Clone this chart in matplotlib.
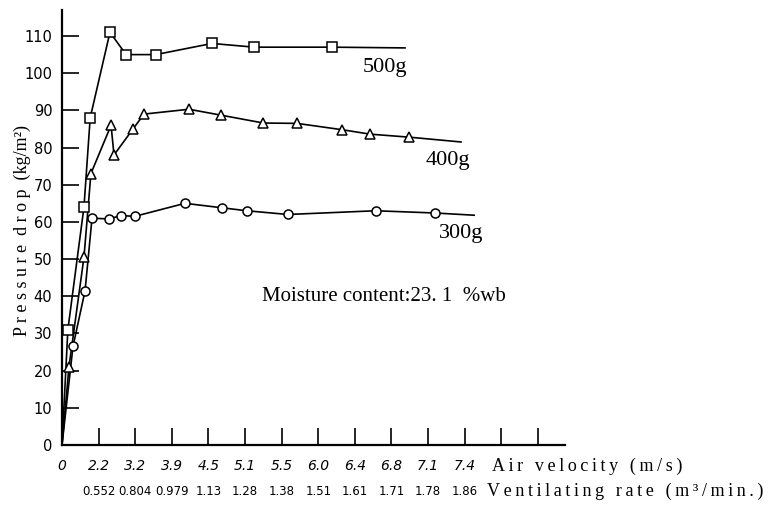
import matplotlib
matplotlib.use("Agg")
import matplotlib.pyplot as plt
import matplotlib.transforms as mtransforms

# tick labels (evenly spaced positions on the x axis)
velocity_labels = ["0", "2.2", "3.2", "3.9", "4.5", "5.1", "5.5", "6.0", "6.4", "6.8", "7.1", "7.4", "", ""]
rate_labels = ["0.552", "0.804", "0.979", "1.13", "1.28", "1.38", "1.51", "1.61", "1.71", "1.78", "1.86"]

# series, x in tick-index units
x_500 = [0, 0.16, 0.6, 0.77, 1.31, 1.75, 2.56, 4.1, 5.25, 7.38, 9.37]
y_500 = [0, 31, 64, 88, 111, 105, 105, 108, 107, 107, 106.8]
m_500 = [False, True, True, True, True, True, True, True, True, True, False]

x_400 = [0, 0.19, 0.6, 0.79, 1.34, 1.42, 1.94, 2.24, 3.47, 4.35, 5.5, 6.42, 7.65, 8.42, 9.48, 10.9]
y_400 = [0, 21, 50.5, 73, 86, 78, 85, 89, 90.3, 88.7, 86.6, 86.5, 84.8, 83.6, 82.8, 81.5]
m_400 = [False] + [True] * 14 + [False]

x_300 = [0, 0.3, 0.63, 0.82, 1.28, 1.61, 1.99, 3.36, 4.37, 5.05, 6.17, 8.57, 10.19, 11.26]
y_300 = [0, 26.5, 41.5, 61, 60.8, 61.7, 61.5, 65, 63.8, 63, 62, 63, 62.4, 61.8]
m_300 = [False] + [True] * 12 + [False]

serif = ["Liberation Serif", "DejaVu Serif"]


def spaced(s):
    # loose letter spacing like the typeset original
    return "\u2009".join(s)


fig = plt.figure(figsize=(7.78, 5.07), dpi=100)
ax = fig.add_axes([0.0797, 0.1223, 0.6465, 0.858])

for xs, ys, ms, mk, size in [(x_500, y_500, m_500, "s", 6.5),
                              (x_400, y_400, m_400, "^", 7.5),
                              (x_300, y_300, m_300, "o", 6.5)]:
    ax.plot(xs, ys, color="black", lw=1.2, zorder=2)
    mx = [a for a, f in zip(xs, ms) if f]
    my = [b for b, f in zip(ys, ms) if f]
    ax.plot(mx, my, linestyle="none", marker=mk, markersize=size,
            markerfacecolor="white", markeredgecolor="black", markeredgewidth=1.1, zorder=3)

ax.set_xlim(0, 13.74)
ax.set_ylim(0, 117)
for s in ["top", "right"]:
    ax.spines[s].set_visible(False)
ax.spines["left"].set_linewidth(1.6)
ax.spines["bottom"].set_linewidth(1.6)

ax.set_xticks(range(len(velocity_labels)))
ax.set_xticklabels(velocity_labels, fontsize=10, style="italic")
ax.set_yticks(range(0, 111, 10))
ax.set_yticklabels([str(v) for v in range(0, 111, 10)], fontsize=10.5)
ax.tick_params(axis="both", direction="in", length=12, width=1.2)
ax.tick_params(axis="x", pad=10)
ax.tick_params(axis="y", pad=7)

# second row of x labels
trans = mtransforms.blended_transform_factory(ax.transData, ax.transAxes)
for i, lab in enumerate(rate_labels):
    ax.text(i + 1, -0.106, lab, transform=trans, ha="center", va="center", fontsize=8.5)

ax.text(11.75, -0.05, spaced("Air velocity (m/s)"), transform=trans, ha="left", va="center",
        fontsize=13, family=serif)
ax.text(11.6, -0.106, spaced("Ventilating rate (m³/min.)"), transform=trans, ha="left", va="center",
        fontsize=13, family=serif)

fig.text(22 / 778, 1 - 230 / 507, "P r e s s u r e  d r o p  (kg/m²)", rotation=90,
         ha="center", va="center", fontsize=13, family=serif)

ax.text(8.83, 101.6, "500g", fontsize=16, family=serif, ha="center", va="center")
ax.text(10.55, 76.6, "400g", fontsize=16, family=serif, ha="center", va="center")
ax.text(10.9, 57, "300g", fontsize=16, family=serif, ha="center", va="center")
ax.text(5.45, 40, "Moisture content:23. 1  %wb", fontsize=15, family=serif, ha="left", va="center")

fig.savefig("out.png", dpi=100)
